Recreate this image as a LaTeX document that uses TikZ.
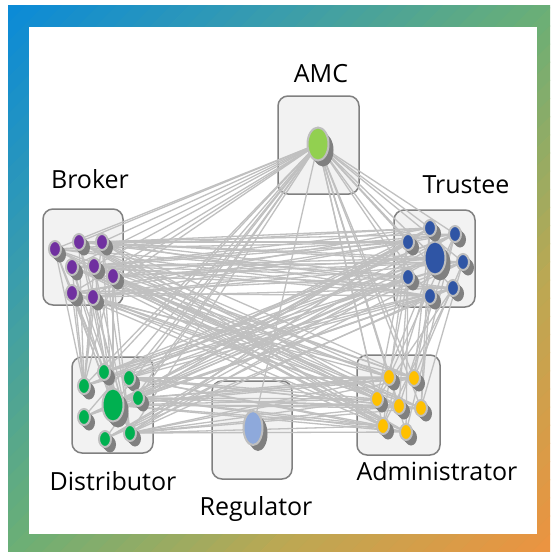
\documentclass[tikz,border=0pt]{standalone}
\usepackage{fontspec}
\setmainfont{Open Sans}
\usetikzlibrary{shapes.geometric,shadows}
\definecolor{g0}{HTML}{0A8AD8}
\definecolor{g1}{HTML}{389CAE}
\definecolor{g2}{HTML}{6AAF76}
\definecolor{g3}{HTML}{BCA853}
\definecolor{g4}{HTML}{EC9340}
\definecolor{boxfill}{HTML}{F2F2F2}
\definecolor{boxline}{HTML}{808080}
\definecolor{edgecol}{HTML}{C0C0C0}
\definecolor{ringcol}{HTML}{BFBFBF}
\definecolor{shadowcol}{HTML}{808080}
\definecolor{amcC}{HTML}{92D050}
\definecolor{brkC}{HTML}{7030A0}
\definecolor{trsC}{HTML}{2F55A5}
\definecolor{dstC}{HTML}{00B050}
\definecolor{regC}{HTML}{8EA9DB}
\definecolor{admC}{HTML}{FFC000}
\pgfdeclarelayer{bg}
\pgfdeclarelayer{edges}
\pgfsetlayers{bg,edges,main}
\tikzset{
  groupbox/.style={draw=boxline, fill=boxfill, line width=1.5pt, rounded corners=10pt},
  edge/.style={draw=edgecol, line width=1.3pt},
  sn/.style={ellipse, draw=ringcol, line width=2pt, fill=#1, minimum width=12pt, minimum height=16pt, inner sep=0pt,
    drop shadow={shadow xshift=2pt, shadow yshift=-2.5pt, fill=shadowcol, opacity=1},
    drop shadow={shadow xshift=3.5pt, shadow yshift=-4pt, fill=shadowcol, opacity=1},
    drop shadow={shadow xshift=5pt, shadow yshift=-5.5pt, fill=shadowcol, opacity=1}},
  bn/.style={ellipse, draw=ringcol, line width=2pt, fill=#1, minimum width=21pt, minimum height=33pt, inner sep=0pt,
    drop shadow={shadow xshift=2.5pt, shadow yshift=-3pt, fill=shadowcol, opacity=1},
    drop shadow={shadow xshift=5pt, shadow yshift=-6pt, fill=shadowcol, opacity=1}},
  lbl/.style={anchor=base, font=\fontsize{25}{30}\selectfont, text=black, inner sep=0pt}
}
\begin{document}
\begin{tikzpicture}[x=1pt,y=-1pt]
\useasboundingbox (0,0) rectangle (550,552);
\begin{pgfonlayer}{bg}
\begin{scope}
\clip (8,5) rectangle (550,552);
\foreach \ca/\cb/\seg in {g0/g1/0, g1/g2/1, g2/g3/2, g3/g4/3}{
  \foreach \j in {0,...,14}{
    \pgfmathsetmacro\cz{13+(\seg*15+\j)*18.15}
    \pgfmathsetmacro\cw{\cz+19}
    \pgfmathtruncatemacro\pp{100-(\j+0.5)*100/15}
    \colorlet{stripC}{\ca!\pp!\cb}
    \fill[stripC] (\cz+600,-600) -- (\cw+600,-600) -- (\cw-600,600) -- (\cz-600,600) -- cycle;
  }
}
\end{scope}
\fill[white] (29,27) rectangle (537,534);
\draw[groupbox] (278,96) rectangle (359,194);
\draw[groupbox] (43,209) rectangle (123,305);
\draw[groupbox] (394,210) rectangle (475,307);
\draw[groupbox] (72,357) rectangle (153,453);
\draw[groupbox] (212,381) rectangle (292,479);
\draw[groupbox] (357,355) rectangle (440,455);
\end{pgfonlayer}
% labels
\node[lbl] (lAMC) at (321,82) {AMC};
\node[lbl] (lBrk) at (90,188) {Broker};
\node[lbl] (lTrs) at (466,193) {Trustee};
\node[lbl] (lDst) at (113,490) {Distributor};
\node[lbl] (lReg) at (256,515) {Regulator};
\node[lbl] (lAdm) at (437,480) {Administrator};
% AMC
\node[bn=amcC] (a) at (318,144) {};
% Broker
\node[sn=brkC] (b1) at (55,249) {};
\node[sn=brkC] (b2) at (79,242) {};
\node[sn=brkC] (b3) at (102,242) {};
\node[sn=brkC] (b4) at (72,267) {};
\node[sn=brkC] (b5) at (94,266) {};
\node[sn=brkC] (b6) at (113,276) {};
\node[sn=brkC] (b7) at (72,293) {};
\node[sn=brkC] (b8) at (93,297) {};
% Trustee
\node[bn=trsC] (t0) at (435,258) {};
\node[sn=trsC] (t1) at (430,228) {};
\node[sn=trsC] (t2) at (455,234) {};
\node[sn=trsC] (t3) at (408,242) {};
\node[sn=trsC] (t4) at (463,262) {};
\node[sn=trsC] (t5) at (408,277) {};
\node[sn=trsC] (t6) at (453,288) {};
\node[sn=trsC] (t7) at (430,296) {};
% Distributor
\node[bn=dstC] (d0) at (113,405) {};
\node[sn=dstC] (d1) at (104,372) {};
\node[sn=dstC] (d2) at (129,378) {};
\node[sn=dstC] (d3) at (84,386) {};
\node[sn=dstC] (d4) at (138,398) {};
\node[sn=dstC] (d5) at (84,417) {};
\node[sn=dstC] (d6) at (130,433) {};
\node[sn=dstC] (d7) at (105,439) {};
% Regulator
\node[bn=regC, minimum width=19pt, minimum height=34pt] (r) at (253,428) {};
% Administrator
\node[sn=admC] (m1) at (389,377) {};
\node[sn=admC] (m2) at (414,378) {};
\node[sn=admC] (m3) at (377,399) {};
\node[sn=admC] (m4) at (399,406) {};
\node[sn=admC] (m5) at (421,408) {};
\node[sn=admC] (m6) at (383,426) {};
\node[sn=admC] (m7) at (406,432) {};
% edges
\begin{pgfonlayer}{edges}
\foreach \n in {b1,b2,b3,b4,b5,b6,b7,b8,t0,t1,t2,t3,t4,t5,t6,t7,d0,d1,d2,d3,d4,d5,d6,d7,m1,m2,m3,m4,m5,m6,m7,r}
  \draw[edge] (a.center) -- (\n.center);
\foreach \i in {1,...,8}{
  \foreach \j in {0,...,7}{
    \pgfmathtruncatemacro\s{\i+\j}
    \ifodd\s\else
      \draw[edge] (b\i.center) -- (t\j.center);
    \fi
    \pgfmathtruncatemacro\u{mod(\i*3+\j,3)}
    \ifnum\u=0
      \draw[edge] (b\i.center) -- (d\j.center);
    \fi
  }
}
\foreach \i in {1,...,8}{
  \foreach \j in {1,...,7}{
    \pgfmathtruncatemacro\s{\i+\j}
    \ifodd\s
      \draw[edge] (b\i.center) -- (m\j.center);
    \fi
  }
}
\foreach \i in {0,...,7}{
  \foreach \j in {0,...,7}{
    \pgfmathtruncatemacro\s{\i+\j}
    \ifodd\s
      \draw[edge] (t\i.center) -- (d\j.center);
    \fi
  }
  \foreach \j in {1,...,7}{
    \pgfmathtruncatemacro\u{mod(\i+\j,3)}
    \ifnum\u=0
      \draw[edge] (t\i.center) -- (m\j.center);
    \fi
    \pgfmathtruncatemacro\v{mod(\i+2*\j,2)}
    \ifnum\v=0
      \draw[edge] (d\i.center) -- (m\j.center);
    \fi
  }
}
\end{pgfonlayer}
\end{tikzpicture}
\end{document}
